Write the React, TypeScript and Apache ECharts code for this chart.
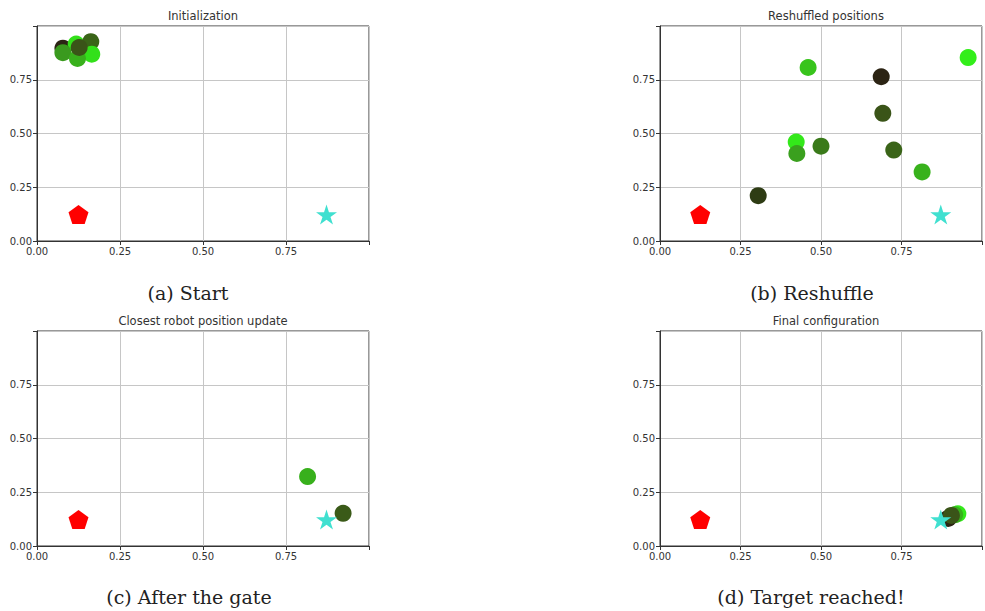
import React, { useEffect, useRef } from "react";
import * as echarts from "echarts";

const panelTitles = [
  "Initialization",
  "Reshuffled positions",
  "Closest robot position update",
  "Final configuration",
];
const captions = ["(a) Start", "(b) Reshuffle", "(c) After the gate", "(d) Target reached!"];
const tickValues = [0, 0.25, 0.5, 0.75];

// robot positions [x, y] per panel (drawing order)
const startPoints = [
  [0.078, 0.897],
  [0.118, 0.916],
  [0.078, 0.876],
  [0.162, 0.927],
  [0.165, 0.869],
  [0.122, 0.849],
  [0.127, 0.9],
];
const startColors = ["#2c2414", "#33e01a", "#3a9a1e", "#3a6418", "#33e01a", "#38b01c", "#3a5418"];

const reshufflePoints = [
  [0.957, 0.853],
  [0.46, 0.807],
  [0.687, 0.764],
  [0.692, 0.594],
  [0.423, 0.46],
  [0.425, 0.407],
  [0.5, 0.441],
  [0.726, 0.423],
  [0.814, 0.321],
  [0.305, 0.211],
];
const reshuffleColors = [
  "#33ee1a",
  "#38c41c",
  "#2c2414",
  "#3a5418",
  "#33e81a",
  "#3aa01e",
  "#3a7a1a",
  "#3a6418",
  "#38b21c",
  "#2e3c14",
];

const gatePoints = [
  [0.815, 0.323],
  [0.922, 0.152],
];
const gateColors = ["#38b01c", "#3a5a18"];

const finalPoints = [
  [0.925, 0.15],
  [0.915, 0.145],
  [0.895, 0.128],
  [0.905, 0.142],
];
const finalColors = ["#33e81a", "#38b01c", "#2c2414", "#3a5418"];

const obstacle = [0.125, 0.123];
const target = [0.872, 0.123];

const STAR =
  "path://M50,0 L61.17,34.63 L97.55,34.55 L68.07,55.87 L79.39,90.45 L50,69 L20.61,90.45 L31.93,55.87 L2.45,34.55 L38.83,34.63 Z";
const PENTAGON = "path://M50,0 L97.55,34.55 L79.39,90.45 L20.61,90.45 L2.45,34.55 Z";

const panelPoints = [startPoints, reshufflePoints, gatePoints, finalPoints];
const panelColors = [startColors, reshuffleColors, gateColors, finalColors];

export default function App() {
  const ref = useRef<HTMLDivElement>(null);
  useEffect(() => {
    if (!ref.current) return;
    const chart = echarts.init(ref.current, undefined, { renderer: "svg" });
    const layouts = [
      { left: 37, top: 26 },
      { left: 660, top: 26 },
      { left: 37, top: 331 },
      { left: 660, top: 331 },
    ];
    const W = 332;
    const H = 215;
    const grids = layouts.map((l) => ({
      left: l.left,
      top: l.top,
      width: W,
      height: H,
      show: true,
      borderColor: "#333",
      borderWidth: 1,
      backgroundColor: "transparent",
    }));
    const axisBase = (i: number) => ({
      type: "value" as const,
      gridIndex: i,
      min: 0,
      max: 1,
      interval: 0.25,
      axisLine: { show: true, lineStyle: { color: "#333", width: 1 } },
      axisTick: { show: true, inside: false, length: 4, lineStyle: { color: "#333" } },
      splitLine: { show: true, lineStyle: { color: "#c6c6c6", width: 1 } },
      axisLabel: {
        fontSize: 10,
        color: "#333",
        fontFamily: "DejaVu Sans",
        margin: 5,
        formatter: (v: number) => (tickValues.some((t) => Math.abs(t - v) < 1e-9) ? v.toFixed(2) : ""),
      },
    });
    const xAxes = layouts.map((_, i) => axisBase(i));
    const yAxes = layouts.map((_, i) => axisBase(i));
    const series: any[] = [];
    panelPoints.forEach((pts, i) => {
      series.push({
        type: "scatter",
        xAxisIndex: i,
        yAxisIndex: i,
        symbol: "circle",
        symbolSize: 17,
        silent: true,
        data: pts.map((p, j) => ({ value: p, itemStyle: { color: panelColors[i][j], opacity: 1 } })),
      });
      series.push({
        type: "scatter",
        xAxisIndex: i,
        yAxisIndex: i,
        symbol: PENTAGON,
        symbolKeepAspect: true,
        symbolSize: 20,
        silent: true,
        itemStyle: { color: "#ff0000", opacity: 1 },
        data: [obstacle],
      });
      series.push({
        type: "scatter",
        xAxisIndex: i,
        yAxisIndex: i,
        symbol: STAR,
        symbolKeepAspect: true,
        symbolSize: 21,
        silent: true,
        itemStyle: { color: "#40e0d0", opacity: 1 },
        data: [target],
      });
    });
    const graphics: any[] = [];
    layouts.forEach((l, i) => {
      graphics.push({
        type: "text",
        x: l.left + W / 2,
        y: l.top - 10,
        style: {
          text: panelTitles[i],
          fontSize: 11.5,
          fontFamily: "DejaVu Sans",
          fill: "#333",
          align: "center",
          verticalAlign: "middle",
        },
      });
    });
    const capPos = [
      [188, 293],
      [812, 293],
      [189, 597],
      [811, 597],
    ];
    capPos.forEach((c, i) => {
      graphics.push({
        type: "text",
        x: c[0],
        y: c[1],
        style: {
          text: captions[i],
          fontSize: 19,
          fontFamily: "DejaVu Serif",
          fill: "#222",
          align: "center",
          verticalAlign: "middle",
        },
      });
    });
    chart.setOption({
      animation: false,
      backgroundColor: "#ffffff",
      grid: grids,
      xAxis: xAxes,
      yAxis: yAxes,
      series,
      graphic: graphics,
    });
    return () => chart.dispose();
  }, []);
  return (
    <div
      ref={ref}
      style={{ position: "absolute", left: 0, top: 0, width: 985, height: 611 }}
    />
  );
}
